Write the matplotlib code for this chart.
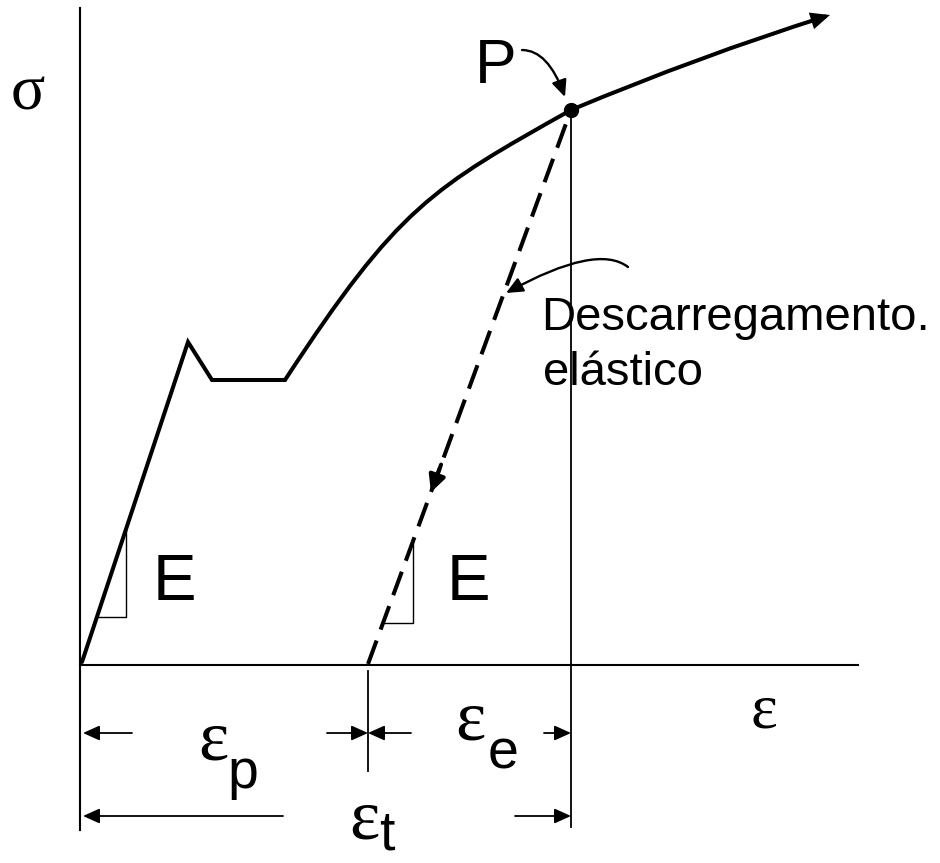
import matplotlib.pyplot as plt
from matplotlib.path import Path
from matplotlib.patches import FancyArrowPatch

# drawing units: strain to the right, stress upwards, origin where the axes cross
origin = (2, 3)
yield_upper = (108, 323)
yield_lower = (132, 285)
plateau_end = (205, 285)
harden_ctrl = [(318, 458), (352, 477)]
point_P = (491, 555)
tail_ctrl = (620, 609)
curve_tip = (750, 650)

eps_p = 288          # strain left after elastic unloading
eps_t = point_P[0]   # total strain at P
unload_arrow_at = 0.31

sigma_axis_top = 657
axis_low = -165
eps_axis_end = 778

# slope triangles: (lower stress, upper stress) on each elastic line
tri_loading = (48, 135)
tri_unloading = (42, 123)

# dimension arrows: (tail, tip) strains
dim_row_upper = -68
dim_upper = [(52, 3), (247, eps_p), (331, eps_p), (464, eps_t)]
dim_row_lower = -151
dim_lower = [(203, 3), (435, eps_t)]

# annotation arrows: start, control, end
note_P = [(442, 615), (468, 615), (485, 568)]
note_unload = [(548, 398), (517, 422), (426, 372)]

sans = 'Liberation Sans'
serif = 'Liberation Serif'

fig = plt.figure(figsize=(9.4, 8.63), dpi=100)
ax = fig.add_axes([0, 0, 1, 1])
ax.set_xlim(-80, 860)
ax.set_ylim(-198, 665)
ax.axis('off')

# axes
ax.plot([0, 0], [axis_low, sigma_axis_top], color='k', lw=1.5)
ax.plot([0, eps_axis_end], [0, 0], color='k', lw=1.5)

# loading curve with its arrow at the end
verts = [origin, yield_upper, yield_lower, plateau_end,
         harden_ctrl[0], harden_ctrl[1], point_P, tail_ctrl, curve_tip]
codes = [Path.MOVETO, Path.LINETO, Path.LINETO, Path.LINETO,
         Path.CURVE4, Path.CURVE4, Path.CURVE4, Path.CURVE3, Path.CURVE3]
ax.add_patch(FancyArrowPatch(path=Path(verts, codes),
                             arrowstyle='-|>,head_length=9,head_width=4',
                             mutation_scale=1, lw=2.9, color='k',
                             joinstyle='miter'))
ax.plot(*point_P, 'o', ms=10, color='k')

# elastic unloading (dashed)
ax.plot([eps_p, point_P[0]], [1, point_P[1]], color='k', lw=2.9,
        dashes=(6.2, 2.9))
du, dv = point_P[0] - eps_p, point_P[1] - 1
tip = (eps_p + unload_arrow_at * du, 1 + unload_arrow_at * dv)
tail = (eps_p + (unload_arrow_at + 0.05) * du, 1 + (unload_arrow_at + 0.05) * dv)
ax.add_patch(FancyArrowPatch(tail, tip, arrowstyle='-|>,head_length=10,head_width=5',
                             mutation_scale=1, lw=2.9, color='k',
                             shrinkA=0, shrinkB=0))


def on_line(p0, p1, v):
    return p0[0] + (p1[0] - p0[0]) * (v - p0[1]) / (p1[1] - p0[1])


for (lo, hi), p0, p1 in [(tri_loading, origin, yield_upper),
                         (tri_unloading, (eps_p, 1), point_P)]:
    u_lo = on_line(p0, p1, lo)
    u_hi = on_line(p0, p1, hi)
    ax.plot([u_lo, u_hi, u_hi], [lo, lo, hi], color='k', lw=1.0)

# extension lines
ax.plot([eps_p, eps_p], [-6, -106], color='k', lw=1.3)
ax.plot([eps_t, eps_t], [point_P[1], -162], color='k', lw=1.3)

dim_style = '-|>,head_length=10,head_width=4.5'
for row, pairs in [(dim_row_upper, dim_upper), (dim_row_lower, dim_lower)]:
    for a, b in pairs:
        ax.add_patch(FancyArrowPatch((a, row), (b, row), arrowstyle=dim_style,
                                     mutation_scale=1, lw=1.3, color='k',
                                     shrinkA=0, shrinkB=0))

for pts in (note_P, note_unload):
    ax.add_patch(FancyArrowPatch(path=Path(pts, [Path.MOVETO, Path.CURVE3, Path.CURVE3]),
                                 arrowstyle='-|>,head_length=10,head_width=4.5',
                                 mutation_scale=1, lw=1.7, color='k'))

# labels
ax.text(-52.5, 555, 'σ', family=serif, size=46, ha='center', va='baseline')
ax.text(395, 582, 'P', family=sans, size=45, ha='left', va='baseline')
ax.text(73, 65, 'E', family=sans, size=47, ha='left', va='baseline')
ax.text(367, 65, 'E', family=sans, size=47, ha='left', va='baseline')
ax.text(461, 335, 'Descarregamento.', family=sans, size=34, ha='left', va='baseline')
ax.text(463, 280, 'elástico', family=sans, size=34, ha='left', va='baseline')

ax.text(683.5, -62, 'ε', family=serif, size=46, ha='center', va='baseline')
for eps_u, eps_v, sub, sub_u, sub_v in [(133, -94, 'p', 147, -122.5),
                                        (390, -74, 'e', 408, -103),
                                        (284.5, -173, 't', 299, -184)]:
    ax.text(eps_u, eps_v, 'ε', family=serif, size=52, ha='center', va='baseline')
    ax.text(sub_u, sub_v, sub, family=sans, size=40, ha='left', va='baseline')

fig.savefig('out.png', dpi=100, facecolor='white')
